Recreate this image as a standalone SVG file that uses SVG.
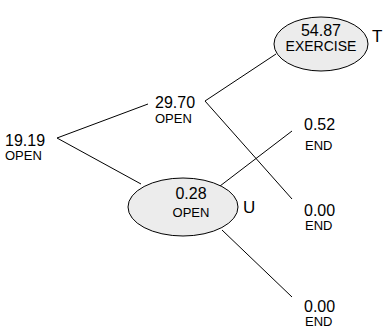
<svg xmlns="http://www.w3.org/2000/svg" width="383" height="332" viewBox="0 0 383 332">
<style>
.num{font-family:"Liberation Sans",Arial,sans-serif;font-size:16px;fill:#000}
.lbl{font-family:"Liberation Sans",Arial,sans-serif;font-size:13px;fill:#000}
.big{font-family:"Liberation Sans",Arial,sans-serif;font-size:17px;fill:#000}
.ell{fill:#ececec;stroke:#000;stroke-width:1}
.edge{stroke:#000;stroke-width:1;fill:none}
</style>
<rect width="383" height="332" fill="#fff"/>
<g id="connectors">
<line class="edge" x1="57" y1="138" x2="148" y2="104"/>
<line class="edge" x1="57" y1="138" x2="141" y2="184"/>
<line class="edge" x1="205" y1="101" x2="276" y2="54"/>
<line class="edge" x1="205" y1="101" x2="292" y2="199"/>
<line class="edge" x1="220" y1="186" x2="292" y2="131"/>
<line class="edge" x1="222" y1="230" x2="292" y2="297"/>
</g>
<g id="n-root">
<text class="num" x="5" y="146">19.19</text>
<text class="lbl" x="5" y="160">OPEN</text>
</g>
<g id="n-open1">
<text class="num" x="155" y="108">29.70</text>
<text class="lbl" x="155" y="123">OPEN</text>
</g>
<g id="n-exercise">
<ellipse class="ell" cx="321" cy="44" rx="47" ry="27"/>
<text class="num" x="321" y="36" text-anchor="middle">54.87</text>
<text class="lbl" x="321" y="51" text-anchor="middle" style="font-size:14px">EXERCISE</text>
<text class="big" x="372" y="42">T</text>
</g>
<g id="n-open2">
<ellipse class="ell" cx="183" cy="207" rx="55" ry="29"/>
<text class="num" x="191" y="199" text-anchor="middle">0.28</text>
<text class="lbl" x="191" y="217" text-anchor="middle">OPEN</text>
<text class="big" x="243" y="213">U</text>
</g>
<g id="n-end1">
<text class="num" x="304" y="130">0.52</text>
<text class="lbl" x="305" y="150">END</text>
</g>
<g id="n-end2">
<text class="num" x="304" y="216">0.00</text>
<text class="lbl" x="305" y="230">END</text>
</g>
<g id="n-end3">
<text class="num" x="304" y="312">0.00</text>
<text class="lbl" x="305" y="326">END</text>
</g>
</svg>
